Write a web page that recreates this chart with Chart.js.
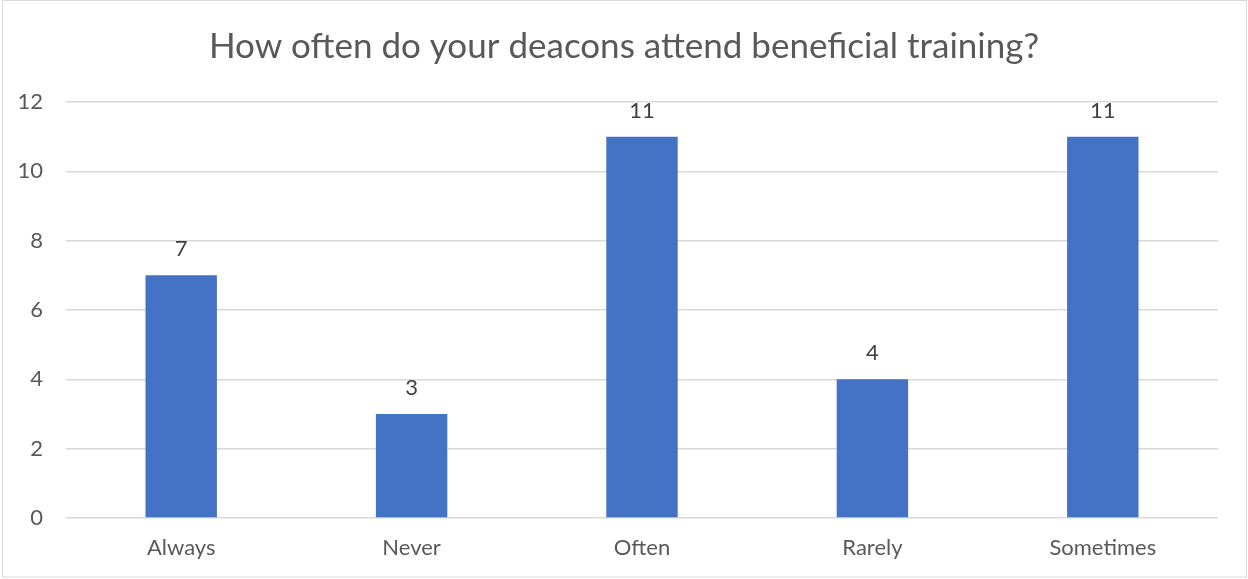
<!DOCTYPE html>
<html>
<head>
<meta charset="utf-8">
<script src="https://cdn.jsdelivr.net/npm/chart.js@4"></script>
<style>
  html, body { margin: 0; padding: 0; background: #fff; }
  #wrap { width: 1248px; height: 579px; position: relative; }
</style>
</head>
<body>
<div id="wrap"><canvas id="trainingChart" width="1248" height="579"></canvas></div>
<script>
const categories = ['Always', 'Never', 'Often', 'Rarely', 'Sometimes'];
const counts = [7, 3, 11, 4, 11];
const yTicks = [0, 2, 4, 6, 8, 10, 12];

const FONT = 'Lato, "Open Sans", sans-serif';

// frame around the whole picture + value labels above bars
const framePlugin = {
    id: 'frame',
    afterLayout(chart) {
        // center the title on the full canvas, not the padded box
        if (chart.titleBlock) {
            chart.titleBlock.left = 0;
            chart.titleBlock.right = chart.width;
        }
    },
    beforeDraw(chart) {
        const c = chart.ctx;
        c.save();
        c.fillStyle = '#fff';
        c.fillRect(0, 0, chart.width, chart.height);
        c.strokeStyle = '#d9d9d9';
        c.lineWidth = 1;
        c.strokeRect(2.5, 0.5, chart.width - 4, chart.height - 2.5);
        c.restore();
    },
    afterDatasetsDraw(chart) {
        const c = chart.ctx;
        const meta = chart.getDatasetMeta(0);
        c.save();
        c.fillStyle = '#404040';
        c.font = '22px ' + FONT;
        c.textAlign = 'center';
        c.textBaseline = 'middle';
        meta.data.forEach((bar, i) => {
            c.fillText(chart.data.datasets[0].data[i], bar.x, bar.y - 26);
        });
        c.restore();
    }
};

const ctx = document.getElementById('trainingChart').getContext('2d');
const chart = new Chart(ctx, {
    type: 'bar',
    data: {
        labels: categories,
        datasets: [{
            label: 'Count',
            data: counts,
            backgroundColor: '#4472c4',
            borderWidth: 0,
            barPercentage: 0.31,
            categoryPercentage: 1
        }]
    },
    options: {
        responsive: false,
        animation: false,
        layout: { padding: { left: 0, right: 30, top: 0, bottom: 0 } },
        plugins: {
            legend: { display: false },
            tooltip: { enabled: false },
            title: {
                display: true,
                text: 'How often do your deacons attend beneficial training?',
                color: '#595959',
                font: { family: FONT, size: 35, weight: 'normal' },
                padding: { top: 26, bottom: 34 }
            }
        },
        scales: {
            x: {
                afterFit(scale) { scale.height = 61; },
                grid: { display: false, drawTicks: false },
                border: { display: false },
                ticks: { color: '#595959', font: { family: FONT, size: 22 }, padding: 17 }
            },
            y: {
                min: 0,
                max: 12,
                afterFit(scale) { scale.width = 66; },
                afterBuildTicks(scale) { scale.ticks = yTicks.map(v => ({ value: v })); },
                grid: { color: '#d9d9d9', lineWidth: 1.5, drawTicks: false },
                border: { display: false },
                ticks: { color: '#595959', font: { family: FONT, size: 22 }, padding: 23 }
            }
        }
    },
    plugins: [framePlugin]
});
</script>
</body>
</html>
